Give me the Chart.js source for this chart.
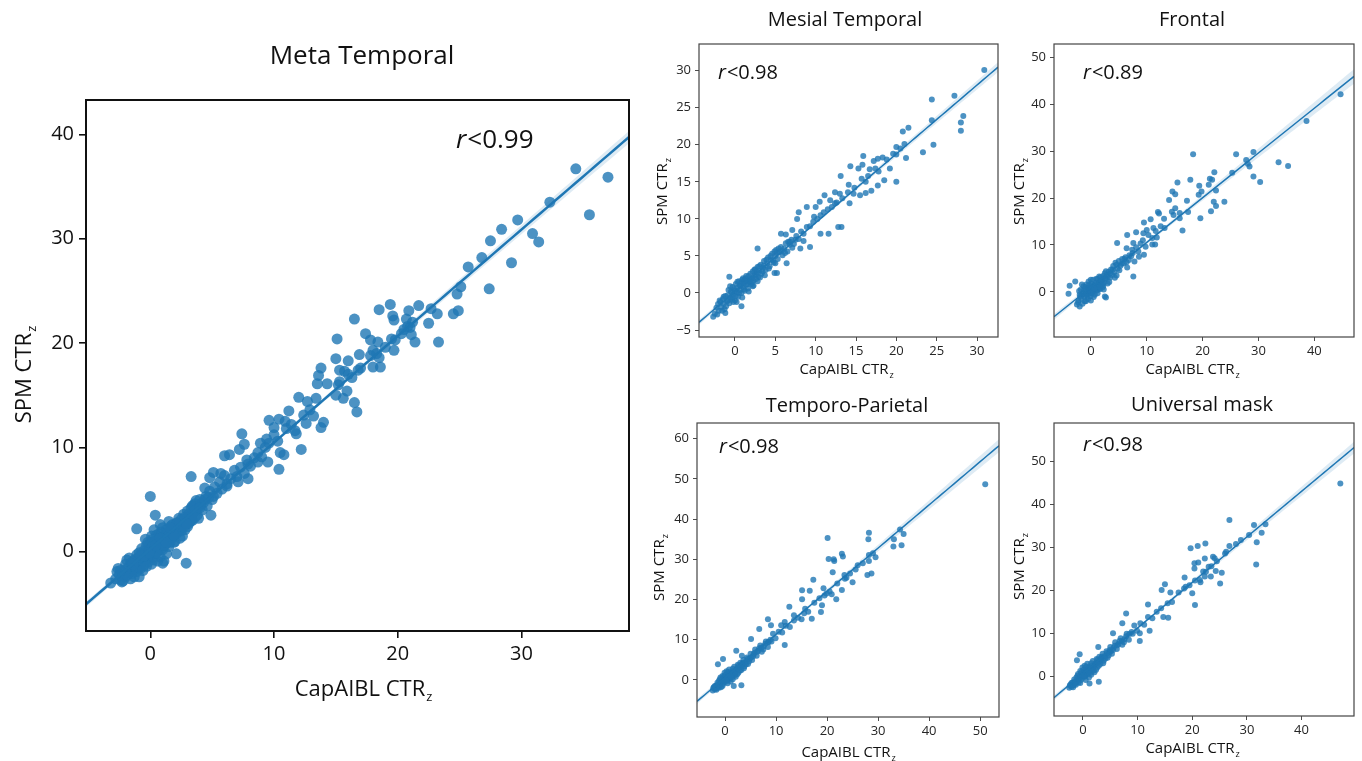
<!DOCTYPE html>
<html>
<head>
<meta charset="utf-8">
<script src="https://cdn.jsdelivr.net/npm/chart.js@4.4.1/dist/chart.umd.min.js"></script>
<style>
html, body { margin: 0; padding: 0; background: #fff; }
#wrap { position: relative; width: 1362px; height: 761px; overflow: hidden; }
#wrap canvas { position: absolute; left: 0; top: 0; }
</style>
</head>
<body>
<div id="wrap">
<canvas id="c0" width="1362" height="761"></canvas>
<canvas id="c1" width="1362" height="761"></canvas>
<canvas id="c2" width="1362" height="761"></canvas>
<canvas id="c3" width="1362" height="761"></canvas>
<canvas id="c4" width="1362" height="761"></canvas>
</div>
<script>
// CapAIBL CTRz (x) vs SPM CTRz (y)
const metaTemporal = [
  [34.4,36.7],[37.0,35.9],[35.5,32.3],[32.3,33.5],[29.7,31.8],[28.4,30.9],[27.5,29.8],[30.9,30.5],[31.4,29.7],
  [26.8,28.2],[29.2,27.7],[25.7,27.3],[27.4,25.2],[25.1,25.4],[24.8,24.7],[24.9,23.1],[24.5,22.8],[23.2,22.8],
  [22.7,23.3],[22.5,21.9],[23.3,20.1],[21.7,23.6],[20.9,23.1],[20.7,22.3],[21.0,21.5],[21.4,20.1],[21.1,20.8],
  [20.5,21.3],[19.4,23.7],[19.6,22.6],[19.7,22.2],[19.5,20.4],[19.7,19.3],[18.5,23.2],[18.4,20.1],[17.8,20.3],
  [17.4,20.9],[18.0,19.3],[18.6,17.7],[18.0,17.7],[18.5,18.6],[16.5,22.3],[16.9,18.9],[16.0,18.3],[15.1,20.4],
  [15.0,18.5],[15.3,17.4],[15.7,17.3],[13.8,17.6],[13.6,16.9],[13.5,16.1],[14.3,16.1],[15.2,16.0],[16.8,17.4],
  [16.3,16.7],[15.9,15.4],[15.0,15.0],[15.6,14.7],[16.5,14.3],[16.7,13.4],[13.4,14.7],[12.7,14.4],[12.0,14.8],
  [13.2,13.0],[12.6,12.3],[14.0,12.4],[13.8,11.9],[11.8,11.3],[12.2,9.8],[11.2,13.5],[10.9,12.5],[10.4,12.7],
  [9.6,12.6],[10.0,11.9],[9.4,10.8],[8.9,10.4],[10.5,9.5],[10.8,9.3],[10.4,7.9],[7.4,11.3],[7.6,10.3],
  [7.2,9.8],[6.4,9.3],[6.0,9.2],[7.9,8.4],[8.7,8.6],[9.5,8.6],[7.9,7.0],[7.1,6.7],[6.2,6.3],[5.1,7.6],
  [5.7,7.5],[4.8,7.1],[3.3,7.2],[4.4,6.1],[5.1,5.3],[4.9,3.5],[3.7,4.9],[3.4,4.4],[2.9,-1.1],[0.0,5.3],
  [0.4,3.5],[-1.1,2.2],[-3.2,-3.0],[-2.4,-2.7],[1.0,-1.1],[-0.9,-2.4],
  [-2.8,-2.6],[-2.5,-2.2],[-2.3,-2.9],[-2.1,-1.8],[-2.0,-2.4],[-1.8,-1.5],[-1.7,-2.0],[-1.6,-1.2],[-1.5,-2.1],
  [-1.4,-1.6],[-1.3,-0.8],[-1.2,-1.4],[-1.1,-1.9],[-1.0,-0.6],[-1.0,-1.2],[-0.9,-0.9],[-0.8,-1.6],[-0.8,-0.3],
  [-0.7,-1.0],[-0.6,-0.5],[-0.5,-1.3],[-0.5,0.1],[-0.4,-0.7],[-0.3,-0.2],[-0.3,0.6],[-0.2,-1.0],[-0.1,0.3],
  [0.0,-0.4],[0.0,0.9],[0.1,0.0],[0.2,-0.8],[0.2,1.2],[0.3,0.4],[0.4,-0.2],[0.5,0.8],[0.5,1.6],[0.6,0.1],
  [0.7,1.1],[0.8,-0.5],[0.8,0.6],[0.9,1.9],[1.0,1.0],[1.0,0.2],[1.1,1.5],[1.2,0.7],[1.3,2.1],[1.4,1.2],
  [1.5,0.5],[1.6,1.8],[1.7,2.5],[1.8,1.4],[1.9,0.9],[2.0,2.2],[2.1,1.7],[2.2,2.8],[2.3,2.0],[2.4,1.3],
  [2.5,3.1],[2.6,2.5],[2.7,3.6],[2.8,2.1],[2.9,3.0],[3.0,3.9],[3.1,2.7],[3.2,3.4],[3.3,4.2],[3.4,3.0],
  [3.5,3.8],[3.6,4.6],[3.8,3.5],[3.9,4.3],[4.0,5.0],[4.2,4.0],[4.3,4.7],[4.5,5.3],[4.6,4.4],[4.8,5.8],
  [5.0,5.0],[5.2,6.2],[5.4,5.6],[5.6,6.7],[5.8,6.0],[6.0,7.3],[6.2,6.5],[6.5,7.0],[6.8,7.8],[7.0,7.2],
  [7.3,8.1],[7.6,7.5],[7.8,8.8],[8.1,8.2],[8.4,9.0],[8.7,9.5],[9.0,9.1],[9.3,10.0],[9.6,10.4],[10.0,11.2],
  [10.3,10.6],[11.0,11.8],[11.4,12.2],[11.7,11.6],[12.4,13.1],[12.9,13.6],
  [15.3,16.3],[16.0,17.0],[17.0,17.6],[17.8,18.8],[18.3,19.0],[19.0,19.6],[19.8,20.3],[20.3,20.9],[20.8,21.6],
  [21.2,22.0],[-2.0,-1.2],[-1.6,-2.6],[-2.7,-1.9],[-1.9,-0.8],[0.8,2.6],[1.5,2.9],[0.3,2.1],[-0.4,1.2],
  [2.1,-0.2],[1.1,-0.9],
  [-2.6,-1.6],[-2.2,-2.8],[-1.9,-2.2],[-1.7,-0.6],[-1.5,-1.0],[-1.3,-2.4],[-1.1,-0.3],[-0.9,-1.5],[-0.7,0.3],
  [-0.6,-1.8],[-0.4,-0.1],[-0.2,0.9],[-0.1,-0.6],[0.1,1.5],[0.1,-1.2],[0.3,-0.5],[0.4,1.0],[0.6,0.5],
  [0.6,-0.9],[0.7,1.7],[0.9,0.3],[1.0,2.3],[1.2,1.1],[1.3,-0.2],[1.4,1.8],[1.6,0.9],[1.7,1.3],[1.9,2.0],
  [2.0,1.0],[2.2,2.3],[2.3,3.2],[2.5,2.0],[2.6,1.5],[2.8,3.3],[3.0,2.4],[3.1,3.6],[3.3,3.0],[3.5,4.4],
  [3.7,4.0],[3.9,3.2],[4.1,4.6],[4.4,5.0],[4.7,5.2],[-0.3,-1.4],[0.5,-0.1],[0.9,0.9],[1.8,2.6],[2.4,2.7],
  [-1.2,-0.9],[-0.8,-0.5],[0.0,0.2],[1.1,0.6],[1.5,1.5],[2.7,2.4],[3.2,2.9],[-2.4,-1.8],[-0.5,-0.4],
  [0.2,0.5],[0.8,1.3],[1.3,0.9],[1.9,1.6],[2.1,2.7],[3.6,3.3],[4.0,4.2],[-1.4,-1.2],[-0.9,-0.1],[-0.1,-0.1],
  [0.4,0.6],[1.6,2.3],[2.9,2.7]
];

const mesialTemporal = [
  [30.9,30.1],[27.2,26.6],[24.4,26.1],[24.4,23.3],[28.3,23.9],[28.0,23.0],[28.0,21.9],[24.6,20.0],[23.3,19.0],
  [21.5,22.3],[20.8,21.8],[20.0,19.7],[20.0,18.7],[21.2,18.2],[20.0,15.0],[19.2,16.8],[18.5,15.2],[18.3,18.3],
  [17.7,18.1],[17.2,17.8],[17.8,16.4],[17.7,14.5],[15.9,18.5],[15.8,17.3],[16.7,16.7],[15.3,16.8],[14.3,17.1],
  [13.1,15.8],[15.7,15.4],[16.2,15.0],[15.5,13.2],[16.2,13.5],[16.9,13.8],[14.1,14.6],[14.7,13.4],[13.0,13.4],
  [12.4,13.6],[11.1,13.2],[10.5,12.3],[11.8,12.5],[12.4,12.1],[14.2,12.1],[12.8,8.9],[13.2,8.9],[11.6,8.0],
  [10.6,8.0],[9.8,10.3],[8.9,11.6],[7.9,10.9],[7.7,10.0],[10.0,11.6],[9.3,6.2],[8.5,7.0],[7.1,8.5],[6.3,7.9],
  [5.7,8.0],[6.8,6.9],[8.1,6.0],[5.2,2.7],[4.9,2.7],[2.8,6.0],[5.0,4.0],[6.4,4.0],[0.8,-1.8],[-0.7,2.2],
  [-1.2,-2.7],[-2.7,-3.2],
  [-2.5,-2.8],[-2.3,-2.0],[-2.1,-1.5],[-2.0,-2.4],[-1.8,-1.2],[-1.7,-1.9],[-1.5,-0.8],[-1.4,-1.5],[-1.3,-2.2],
  [-1.2,-0.4],[-1.0,-1.1],[-0.9,-0.3],[-0.8,0.4],[-0.7,-1.4],[-0.6,-0.6],[-0.5,0.2],[-0.4,-0.9],[-0.3,0.8],
  [-0.2,-0.2],[-0.1,0.5],[0.0,-1.0],[0.1,1.2],[0.2,0.1],[0.3,0.7],[0.4,-0.5],[0.5,1.6],[0.6,0.4],[0.7,1.0],
  [0.8,0.0],[0.9,1.8],[1.0,0.8],[1.1,1.3],[1.2,0.3],[1.3,2.0],[1.4,1.1],[1.5,1.7],[1.6,0.6],[1.7,2.3],
  [1.8,1.5],[1.9,2.6],[2.0,1.2],[2.1,2.0],[2.2,2.9],[2.3,1.7],[2.4,2.4],[2.5,3.2],[2.6,1.9],[2.7,2.8],
  [2.8,3.5],[2.9,2.2],[3.0,3.0],[3.2,3.8],[3.3,2.6],[3.5,3.4],[3.6,4.3],[3.8,3.1],[4.0,4.0],[4.1,4.8],
  [4.3,3.6],[4.5,4.5],[4.6,5.3],[4.8,4.1],[5.0,5.0],[5.1,5.8],[5.3,4.6],[5.5,5.5],[5.7,6.2],[5.9,5.1],
  [6.1,6.0],[6.3,6.7],[6.5,5.6],[6.8,6.5],[7.0,7.2],[7.3,6.6],[7.6,7.7],[7.9,7.3],[8.2,8.3],[8.5,8.0],
  [8.9,8.9],[9.3,9.0],[9.7,9.6],[10.2,10.0],[10.6,10.5],[11.0,10.9],[11.5,11.3],[12.0,11.6],[12.6,12.2],
  [13.3,12.8],[14.0,13.6],[14.8,14.2],[16.5,15.8],[17.4,16.8],[18.8,18.0],[19.6,18.8],[20.5,19.5],[21.0,20.1],
  [-2.2,-2.9],[-1.9,-1.0],[-1.6,-2.4],[-1.4,-0.5],[-1.1,-1.8],[-0.9,-1.0],[-0.6,0.9],[-0.4,0.1],[-0.2,-1.2],
  [0.0,0.3],[0.1,-0.4],[0.3,1.5],[0.5,0.0],[0.6,1.0],[0.8,1.4],[0.9,-0.6],[1.1,0.5],[1.2,1.7],[1.4,2.3],
  [1.6,1.2],[1.7,0.2],[1.9,1.9],[2.1,1.4],[2.2,0.9],[2.4,3.1],[2.6,2.5],[2.8,1.6],[3.0,3.6],[3.1,2.1],
  [3.4,2.9],[3.6,3.7],[3.9,4.5],[4.2,3.3],[4.4,5.0],[4.7,4.4],[5.2,5.4],[5.4,6.0],[5.8,5.7],[6.2,5.4],
  [6.6,6.9],[7.1,6.1],[7.5,7.2],[4.9,5.6],[3.7,2.4],[2.3,1.0],[1.0,2.0],[-0.3,-0.6],[0.2,-1.2]
];

const frontal = [
  [44.7,42.1],[38.6,36.4],[33.6,27.6],[35.3,26.8],[29.1,24.6],[30.3,23.4],[29.1,29.8],[27.8,28.1],[28.1,27.3],
  [28.4,26.7],[26.0,29.3],[25.3,25.4],[18.3,29.3],[22.1,25.5],[21.3,24.1],[21.7,23.9],[21.1,22.8],[22.4,21.6],
  [19.8,21.4],[19.3,20.7],[19.4,22.6],[17.8,23.9],[15.5,23.3],[14.6,21.4],[15.1,20.8],[17.2,19.4],[14.0,19.6],
  [23.9,19.2],[22.0,19.2],[22.4,18.3],[21.5,17.2],[19.6,15.7],[17.4,17.0],[15.9,16.8],[15.1,17.8],[14.5,17.1],
  [14.8,16.4],[15.9,15.7],[16.4,13.1],[12.0,17.0],[12.2,16.7],[13.1,15.6],[10.7,15.5],[9.5,14.8],[10.0,13.2],
  [11.2,13.6],[11.8,11.6],[11.5,10.1],[11.0,10.1],[8.1,12.7],[6.5,12.1],[9.4,12.5],[7.6,10.4],[4.7,10.4],
  [7.6,3.3],[6.4,9.3],[8.6,7.5],[9.5,7.9],[-3.8,1.3],[-4.0,-0.4],[2.5,-1.0],[2.7,-1.2],[-0.5,0.1],[-2.8,2.2],
  [-2.5,-2.7],[-2.2,-1.8],[-2.0,-0.6],[-2.0,-3.1],[-1.8,0.5],[-1.7,-1.4],[-1.5,-2.5],[-1.4,-0.2],[-1.3,1.2],
  [-1.2,-1.0],[-1.0,0.3],[-0.9,-2.0],[-0.8,1.6],[-0.7,-0.4],[-0.6,0.8],[-0.5,-1.5],[-0.4,2.2],[-0.3,0.0],
  [-0.2,1.0],[-0.1,-0.9],[0.0,0.5],[0.1,1.8],[0.2,-0.3],[0.3,0.9],[0.4,2.6],[0.5,0.2],[0.6,1.4],[0.7,-0.6],
  [0.8,0.8],[0.9,2.0],[1.0,1.2],[1.1,0.3],[1.2,2.7],[1.3,1.5],[1.5,0.7],[1.6,2.2],[1.7,3.1],[1.8,1.4],
  [2.0,2.5],[2.1,1.0],[2.2,3.4],[2.4,2.0],[2.5,4.0],[2.7,2.8],[2.9,3.6],[3.0,1.8],[3.2,4.3],[3.4,3.0],
  [3.6,4.8],[3.8,3.6],[4.0,5.5],[4.2,4.2],[4.4,6.2],[4.6,3.5],[4.8,5.0],[5.0,6.6],[5.3,5.6],[5.6,7.0],
  [5.9,6.1],[6.2,7.4],[6.5,5.2],[6.8,6.8],[7.2,7.6],[7.5,8.3],[7.8,6.5],[8.1,9.5],[8.5,8.6],[8.9,10.3],
  [9.3,11.0],[9.8,9.6],[10.3,12.1],[11.0,11.5],[11.6,13.0],[12.5,14.0],[13.2,13.6],
  [-2.3,-2.2],[-2.1,0.2],[-1.9,-1.0],[-1.6,1.6],[-1.5,-0.5],[-1.2,0.5],[-1.1,-2.0],[-0.9,1.0],[-0.6,-0.9],
  [-0.4,0.6],[-0.2,-0.3],[0.0,2.6],[0.0,-1.8],[0.2,1.2],[0.4,0.2],[0.5,-1.1],[0.7,1.6],[0.9,0.4],[1.0,2.8],
  [1.2,-0.3],[1.4,1.9],[1.5,3.3],[1.7,0.6],[1.9,2.3],[2.1,1.8],[2.3,0.5],[2.5,2.9],[2.7,4.4],[3.0,3.2],
  [3.3,2.1],[3.5,4.0],[3.9,4.8],[4.3,3.0],[4.6,5.8],[5.1,4.6],[5.5,6.0],[6.0,7.0],[6.4,6.3],[6.9,7.8],
  [7.4,9.0],[1.6,1.0],[0.6,0.8],[-0.3,1.5],[-1.0,-0.6],[2.2,1.3]
];

const temporoParietal = [
  [51.0,48.7],[34.3,37.4],[35.0,36.3],[33.1,35.0],[33.0,33.2],[34.6,33.5],[28.2,36.6],[28.1,35.0],[28.2,31.1],
  [28.2,29.6],[29.5,30.5],[28.7,26.5],[27.9,26.1],[25.6,27.5],[25.0,24.3],[23.8,25.4],[23.4,26.1],[22.9,22.4],
  [21.4,29.6],[21.3,30.0],[20.3,30.1],[21.1,26.8],[22.9,31.4],[23.1,30.7],[20.1,35.3],[17.3,24.9],[19.3,22.8],
  [19.9,21.5],[20.9,21.3],[21.8,20.1],[19.0,18.6],[18.8,16.9],[16.6,22.2],[15.1,22.3],[15.1,20.1],[12.6,18.2],
  [15.7,17.7],[17.0,15.2],[15.0,15.1],[13.5,16.1],[11.7,14.4],[8.4,15.1],[6.7,12.7],[9.0,13.6],[11.0,13.6],
  [11.7,8.7],[8.5,9.4],[5.1,10.2],[3.3,6.0],[2.2,7.3],[-1.4,3.9],[-0.4,5.2],[3.2,-1.3],[1.7,-1.5],[0.7,1.4],
  [-2.4,-2.6],[-2.2,-1.8],[-2.0,-2.3],[-1.8,-1.4],[-1.6,-2.0],[-1.5,-0.7],[-1.3,-1.6],[-1.2,-0.2],[-1.0,-1.0],
  [-0.9,0.6],[-0.8,-1.8],[-0.6,-0.3],[-0.5,1.0],[-0.4,-1.0],[-0.2,0.4],[-0.1,1.8],[0.0,-0.5],[0.2,0.8],
  [0.3,2.2],[0.4,-0.2],[0.6,1.3],[0.7,0.2],[0.8,2.6],[1.0,1.0],[1.1,-0.4],[1.2,1.9],[1.4,0.7],[1.5,2.8],
  [1.7,1.5],[1.8,3.3],[2.0,2.0],[2.1,0.8],[2.3,2.8],[2.5,3.8],[2.6,1.8],[2.8,3.2],[3.0,4.3],[3.2,2.5],
  [3.4,3.8],[3.6,5.0],[3.8,3.4],[4.0,4.5],[4.3,5.6],[4.5,4.0],[4.8,5.3],[5.0,6.5],[5.3,5.0],[5.6,6.4],
  [5.9,7.6],[6.2,6.0],[6.5,7.3],[6.9,8.6],[7.2,7.0],[7.6,8.4],[8.0,9.6],[8.4,8.2],[8.9,10.0],[9.4,11.5],
  [9.9,10.4],[10.5,12.0],[11.2,11.8],[11.9,13.5],[12.7,13.2],[13.5,14.8],[14.3,15.5],[15.5,16.6],[16.3,17.0],
  [17.5,19.2],[18.5,20.3],[19.5,21.0],[20.5,22.0],[22.0,24.0],[23.5,25.2],[24.5,26.5],[26.0,28.5],[27.0,29.0],
  [29.0,31.5],
  [-2.3,-2.0],[-2.0,-1.5],[-1.7,-2.4],[-1.5,-1.2],[-1.2,-1.9],[-1.0,0.2],[-0.8,-0.6],[-0.5,-1.5],[-0.3,0.8],
  [-0.1,-0.2],[0.1,1.3],[0.3,0.3],[0.5,-0.8],[0.6,2.0],[0.9,0.5],[1.0,1.7],[1.3,1.3],[1.5,0.2],[1.6,2.2],
  [1.9,1.2],[2.2,2.4],[2.4,1.4],[2.7,3.6],[2.9,2.3],[3.1,3.3],[3.5,4.3],[3.7,2.9],[4.1,3.9],[4.4,5.2],
  [4.7,4.6],[5.1,5.6],[5.5,5.9],[5.8,6.8],[6.3,7.0],[6.7,7.9],[7.1,8.0],[7.5,7.6],[7.9,9.0],[8.5,9.5],
  [9.1,9.6],[1.1,0.9],[0.2,0.0],[2.5,2.9],[3.3,4.0]
];

const universalMask = [
  [47.1,44.9],[33.4,35.4],[31.3,35.2],[30.4,32.9],[32.7,33.4],[31.8,31.2],[31.7,26.0],[28.9,31.7],[26.8,30.3],
  [26.2,29.0],[26.8,36.4],[23.8,27.8],[24.1,27.5],[23.0,25.5],[22.5,24.3],[24.3,24.5],[25.4,24.1],[25.1,21.6],
  [23.4,23.2],[22.3,23.2],[21.4,22.4],[21.5,21.9],[22.3,27.4],[21.1,26.5],[20.4,26.3],[20.4,25.1],[19.7,29.8],
  [21.0,30.3],[22.4,30.9],[20.0,19.3],[20.5,16.6],[18.8,20.8],[18.6,23.0],[15.0,21.4],[14.4,20.1],[16.0,19.5],
  [14.7,13.8],[15.6,13.6],[11.9,16.7],[10.4,10.0],[12.2,10.6],[10.4,8.2],[7.9,14.6],[7.2,12.3],[5.5,10.0],
  [4.9,6.1],[2.8,6.8],[-0.6,5.1],[-1.1,3.7],[2.9,-1.3],[1.2,-1.7],[0.6,1.4],
  [-2.5,-2.7],[-2.3,-2.0],[-2.1,-2.5],[-1.9,-1.5],[-1.7,-2.1],[-1.6,-0.8],[-1.4,-1.7],[-1.2,-0.3],[-1.1,-1.2],
  [-0.9,0.5],[-0.8,-1.5],[-0.6,-0.2],[-0.5,1.2],[-0.4,-0.9],[-0.2,0.6],[-0.1,2.0],[0.0,-0.4],[0.2,1.0],
  [0.3,2.4],[0.4,-0.1],[0.6,1.5],[0.7,0.3],[0.8,2.9],[1.0,1.2],[1.1,-0.3],[1.2,2.1],[1.4,0.8],[1.5,3.0],
  [1.7,1.7],[1.8,3.5],[2.0,2.2],[2.1,0.9],[2.3,3.0],[2.5,4.0],[2.6,2.0],[2.8,3.3],[3.0,4.5],[3.2,2.8],
  [3.4,4.0],[3.6,5.2],[3.8,3.6],[4.0,4.7],[4.3,5.8],[4.5,4.3],[4.8,5.5],[5.0,6.8],[5.3,5.2],[5.6,6.6],
  [5.9,7.9],[6.2,6.3],[6.5,7.5],[6.9,8.8],[7.2,7.3],[7.6,8.6],[8.0,9.9],[8.4,8.5],[8.9,10.3],[9.4,11.8],
  [9.9,10.6],[10.5,12.3],[11.2,12.0],[11.9,13.8],[12.7,13.5],[13.5,15.0],[14.3,15.8],[15.5,17.0],[16.3,17.3],
  [17.5,19.5],[18.5,20.4],[19.5,21.2],[20.5,22.3],[22.0,24.4],[23.5,25.6],[24.5,26.8],[26.0,28.6],[28.0,30.8],
  [-2.4,-2.2],[-2.1,-1.6],[-1.8,-2.6],[-1.5,-1.3],[-1.3,-2.0],[-1.0,0.1],[-0.7,-0.7],[-0.5,-1.6],[-0.3,0.9],
  [-0.1,-0.1],[0.1,1.4],[0.3,0.2],[0.5,-0.9],[0.6,2.2],[0.9,0.6],[1.0,1.9],[1.3,1.4],[1.5,0.3],[1.6,2.4],
  [1.9,1.3],[2.2,2.6],[2.4,1.5],[2.7,3.8],[2.9,2.4],[3.1,3.5],[3.5,4.5],[3.7,3.0],[4.1,4.1],[4.4,5.4],
  [4.7,4.8],[5.1,5.8],[5.5,6.1],[5.8,7.1],[6.3,7.2],[6.7,8.2],[7.1,8.2],[7.5,7.9],[7.9,9.3],[8.5,9.8],
  [9.1,9.9],[1.1,1.0],[0.2,0.1],[2.5,3.0],[3.3,4.2]
];

const titles = ["Meta Temporal", "Mesial Temporal", "Frontal", "Temporo-Parietal", "Universal mask"];
const rValues = ["0.99", "0.98", "0.89", "0.98", "0.98"];

const metaXTicks = [0, 10, 20, 30];
const metaYTicks = [0, 10, 20, 30, 40];
const mesialXTicks = [0, 5, 10, 15, 20, 25, 30];
const mesialYTicks = [-5, 0, 5, 10, 15, 20, 25, 30];
const frontalXTicks = [0, 10, 20, 30, 40];
const frontalYTicks = [0, 10, 20, 30, 40, 50];
const tpXTicks = [0, 10, 20, 30, 40, 50];
const tpYTicks = [0, 10, 20, 30, 40, 50, 60];
const umXTicks = [0, 10, 20, 30, 40];
const umYTicks = [0, 10, 20, 30, 40, 50];

const FONT = "'Open Sans', 'Noto Sans', sans-serif";
const BLUE = "#1f77b4";

const big = { tick: 20, tickColor: "#111", tickLen: 7, tickPad: 4, yPad: 5, frame: "#111", frameW: 2,
              label: 22, title: 26, rSize: 26, pointR: 5.5, lineW: 2.5 };
const small = { tick: 13, tickColor: "#262626", tickLen: 4, tickPad: 2, yPad: 4, frame: "#444", frameW: 1.2,
                label: 15, title: 20, rSize: 20, pointR: 3, lineW: 1.5 };

const panels = [
  { pts: metaTemporal, xTicks: metaXTicks, yTicks: metaYTicks, st: big,
    box: [86, 100, 629, 631], xr: [-5.2, 38.7], yr: [-7.6, 43.3],
    titleAt: [362, 57], rAt: [456, 141], xLabAt: [363, 690], yLabAt: [25, 375] },
  { pts: mesialTemporal, xTicks: mesialXTicks, yTicks: mesialYTicks, st: small,
    box: [699, 44, 998, 337], xr: [-4.46, 32.6], yr: [-5.94, 33.6],
    titleAt: [845, 20], rAt: [718, 73], xLabAt: [846, 370], yLabAt: [663, 192] },
  { pts: frontal, xTicks: frontalXTicks, yTicks: frontalYTicks, st: small,
    box: [1054, 44, 1354, 337], xr: [-6.6, 47.1], yr: [-9.6, 52.8],
    titleAt: [1192, 20], rAt: [1083, 73], xLabAt: [1192, 370], yLabAt: [1020, 192] },
  { pts: temporoParietal, xTicks: tpXTicks, yTicks: tpYTicks, st: small,
    box: [697, 423, 999, 717], xr: [-5.5, 53.7], yr: [-9.2, 63.9],
    titleAt: [847, 406], rAt: [719, 447], xLabAt: [848, 753], yLabAt: [660, 568] },
  { pts: universalMask, xTicks: umXTicks, yTicks: umYTicks, st: small,
    box: [1054, 423, 1354, 716], xr: [-5.3, 49.6], yr: [-9.3, 59.0],
    titleAt: [1202, 405], rAt: [1083, 445], xLabAt: [1192, 749], yLabAt: [1020, 567] }
];

// ordinary least squares with a 95% band for the mean, like seaborn regplot
function fitLine(pts) {
  const n = pts.length;
  let mx = 0, my = 0;
  pts.forEach(p => { mx += p[0]; my += p[1]; });
  mx /= n; my /= n;
  let sxx = 0, sxy = 0;
  pts.forEach(p => { sxx += (p[0] - mx) ** 2; sxy += (p[0] - mx) * (p[1] - my); });
  const b = sxy / sxx, a = my - b * mx;
  let sse = 0;
  pts.forEach(p => { sse += (p[1] - a - b * p[0]) ** 2; });
  return { a, b, mx, sxx, n, s: Math.sqrt(sse / (n - 2)) };
}

function subLabel(ctx, base, sub, cx, cy, size, angle) {
  ctx.save();
  ctx.translate(cx, cy);
  ctx.rotate(angle);
  ctx.fillStyle = "#111";
  ctx.textBaseline = "middle";
  ctx.textAlign = "left";
  ctx.font = size + "px " + FONT;
  const w1 = ctx.measureText(base).width;
  const subFont = Math.round(size * 0.6) + "px " + FONT;
  ctx.font = subFont;
  const w2 = ctx.measureText(sub).width;
  const x0 = -(w1 + w2) / 2;
  ctx.font = size + "px " + FONT;
  ctx.fillText(base, x0, 0);
  ctx.font = subFont;
  ctx.fillText(sub, x0 + w1 + 1, size * 0.33);
  ctx.restore();
}

const textPlugin = {
  id: "panelText",
  afterDraw(chart) {
    const p = chart.options.plugins.panelText;
    const st = p.st;
    const ctx = chart.ctx;
    const ca = chart.chartArea;
    ctx.save();
    ctx.strokeStyle = st.frame;
    ctx.lineWidth = st.frameW;
    ctx.strokeRect(ca.left, ca.top, ca.right - ca.left, ca.bottom - ca.top);

    ctx.fillStyle = "#111";
    ctx.textAlign = "center";
    ctx.textBaseline = "middle";
    ctx.font = st.title + "px " + FONT;
    ctx.fillText(p.title, p.titleAt[0], p.titleAt[1]);

    ctx.textAlign = "left";
    ctx.font = "italic " + st.rSize + "px " + FONT;
    const rw = ctx.measureText("r").width;
    ctx.fillText("r", p.rAt[0], p.rAt[1]);
    ctx.font = st.rSize + "px " + FONT;
    ctx.fillText("<" + p.r, p.rAt[0] + rw + 1, p.rAt[1]);
    ctx.restore();

    subLabel(ctx, "CapAIBL CTR", "z", p.xLabAt[0], p.xLabAt[1], st.label, 0);
    subLabel(ctx, "SPM CTR", "z", p.yLabAt[0], p.yLabAt[1], st.label, -Math.PI / 2);
  }
};

function fmtTick(v) {
  return v < 0 ? "\u2212" + Math.abs(v) : String(v);
}

panels.forEach((p, i) => {
  const st = p.st;
  const fit = fitLine(p.pts);
  const steps = 80;
  const lineData = [], upper = [], lower = [];
  for (let k = 0; k <= steps; k++) {
    const x = p.xr[0] + (p.xr[1] - p.xr[0]) * k / steps;
    const y = fit.a + fit.b * x;
    const se = fit.s * Math.sqrt(1 / fit.n + (x - fit.mx) ** 2 / fit.sxx);
    lineData.push({ x, y });
    upper.push({ x, y: y + 1.96 * se });
    lower.push({ x, y: y - 1.96 * se });
  }
  const yAxisW = 50, xAxisH = 30;

  new Chart(document.getElementById("c" + i), {
    type: "scatter",
    data: {
      datasets: [
        { type: "line", data: lineData, borderColor: BLUE, borderWidth: st.lineW, pointRadius: 0, fill: false, order: 0 },
        { type: "line", data: upper, borderWidth: 0, pointRadius: 0, fill: "+1",
          backgroundColor: "rgba(31,119,180,0.15)", order: 1 },
        { type: "line", data: lower, borderWidth: 0, pointRadius: 0, fill: false, order: 2 },
        { data: p.pts.map(q => ({ x: q[0], y: q[1] })), pointRadius: st.pointR,
          backgroundColor: "rgba(31,119,180,0.8)", borderWidth: 0, order: 3 }
      ]
    },
    options: {
      responsive: false,
      animation: false,
      events: [],
      layout: {
        padding: { left: p.box[0] - yAxisW, top: p.box[1], right: 1362 - p.box[2], bottom: 761 - p.box[3] - xAxisH }
      },
      plugins: {
        legend: { display: false },
        tooltip: { enabled: false },
        panelText: { st, title: titles[i], r: rValues[i], titleAt: p.titleAt, rAt: p.rAt, xLabAt: p.xLabAt, yLabAt: p.yLabAt }
      },
      scales: {
        x: {
          type: "linear", min: p.xr[0], max: p.xr[1],
          afterBuildTicks: ax => { ax.ticks = p.xTicks.map(v => ({ value: v })); },
          afterFit: ax => { ax.height = xAxisH; },
          border: { display: false },
          grid: { display: true, drawOnChartArea: false, drawTicks: true, tickLength: st.tickLen,
                  tickColor: st.frame, lineWidth: st.frameW * 0.8 },
          ticks: { font: { family: FONT, size: st.tick }, color: st.tickColor, padding: st.tickPad,
                   maxRotation: 0, callback: fmtTick }
        },
        y: {
          type: "linear", min: p.yr[0], max: p.yr[1],
          afterBuildTicks: ax => { ax.ticks = p.yTicks.map(v => ({ value: v })); },
          afterFit: ax => { ax.width = yAxisW; },
          border: { display: false },
          grid: { display: true, drawOnChartArea: false, drawTicks: true, tickLength: st.tickLen,
                  tickColor: st.frame, lineWidth: st.frameW * 0.8 },
          ticks: { font: { family: FONT, size: st.tick }, color: st.tickColor, padding: st.yPad, callback: fmtTick }
        }
      }
    },
    plugins: [textPlugin]
  });
});
</script>
</body>
</html>
